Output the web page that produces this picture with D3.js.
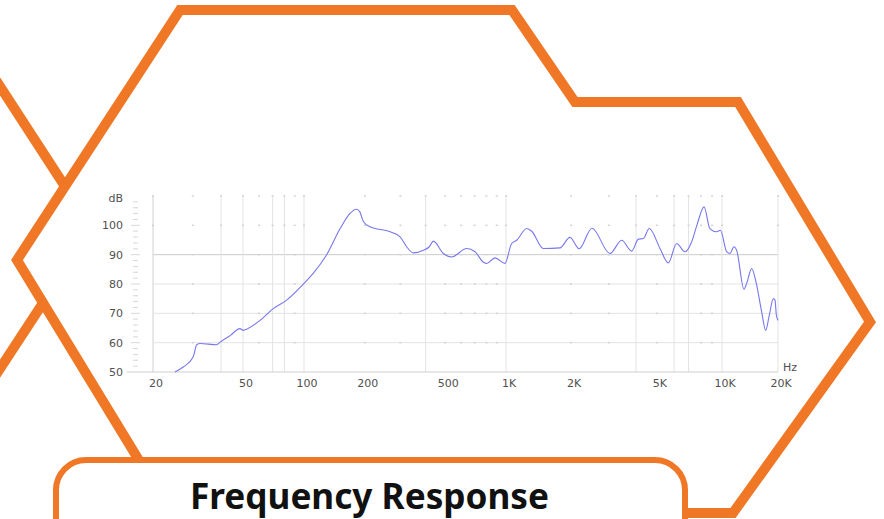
<!DOCTYPE html>
<html>
<head>
<meta charset="utf-8">
<script src="https://cdn.jsdelivr.net/npm/d3@7"></script>
<style>
  body { margin: 0; background: #fff; }
  svg { display: block; }
  .tick-txt { font-family: "DejaVu Sans", sans-serif; font-size: 11px; fill: #505050; }
</style>
</head>
<body>
<div id="vis"></div>
<script>
// datos
const freqHz = [25, 27.2, 30.1, 31.2, 32.3, 38.3, 39.6, 44, 48.5, 50.1, 52.1, 60.7, 70.5, 82.1, 100,
  111, 129, 151, 169, 182, 189, 197, 212, 267, 299, 322, 348, 390, 417, 437, 490, 538, 639, 703,
  773, 802, 883, 988, 1062, 1121, 1247, 1315, 1488, 1778, 1977, 2180, 2500, 3030, 3433, 3819,
  4100, 4325, 4607, 5164, 5641, 6168, 6740, 7240, 7650, 8260, 8790, 9440, 9830, 10600, 11040,
  11600, 11990, 13130, 13570, 14440, 15230, 16340, 17170, 17960, 18880, 19270, 19600, 20000];
const levelDb = [50, 51.7, 55.1, 59.3, 59.7, 59.3, 60.2, 62.5, 64.8, 64.2, 64.6, 67.6, 71.6, 74.5, 80.2,
  83.6, 89.8, 98.9, 104.1, 105.5, 104.6, 101.2, 99.5, 97.8, 96.1, 92.7, 90.6, 91.5, 92.7, 94.6,
  90.4, 89.2, 92.1, 91.0, 87.4, 87.0, 88.9, 87.0, 93.8, 94.9, 98.9, 98.0, 92.1, 92.3, 95.9, 92.0,
  99.0, 90.4, 94.9, 91.2, 95.3, 95.5, 98.9, 92.1, 87.2, 93.8, 91.0, 94.4, 100, 106.3, 98.9, 97.8,
  98.3, 91.0, 90.4, 92.7, 91.5, 78.2, 80.2, 85.3, 80.7, 70.5, 64.2, 69.4, 75.0, 74.5, 69.4, 67.6];

const xTickHz = [20, 50, 100, 200, 500, 1000, 2000, 5000, 10000, 20000];
const xTickLabels = ["20", "50", "100", "200", "500", "1K", "2K", "5K", "10K", "20K"];
const yTicks = [50, 60, 70, 80, 90, 100];
const gridLineHz = [20, 40, 50, 70, 80, 100, 400, 1000, 4000, 6000, 7000, 10000, 20000];
const gridDotHz = [30, 60, 90, 200, 300, 500, 600, 700, 800, 900, 2000, 3000, 5000, 8000, 9000];

const WIDTH = 884, HEIGHT = 519;
const NARANJA = "#ef7726";

const svg = d3.select("#vis").append("svg").attr("width", WIDTH).attr("height", HEIGHT);
svg.append("rect").attr("width", WIDTH).attr("height", HEIGHT).attr("fill", "#fff");

// hexagonos de fondo
const deco = svg.append("g").attr("fill", "none").attr("stroke", NARANJA)
  .attr("stroke-width", 10).attr("stroke-linejoin", "miter");
deco.append("path").attr("d", "M-10,71 L66,188");
deco.append("path").attr("d", "M43,303 L-10,384");
deco.append("path")
  .attr("d", "M140,462 L17,260 L180,10 L512,10 L575,102 L738,102 L870,322 L733,513 L600,513");

// caja del titulo
svg.append("rect")
  .attr("x", 56).attr("y", 460).attr("width", 629).attr("height", 120).attr("rx", 30)
  .attr("fill", "#fff").attr("stroke", NARANJA).attr("stroke-width", 6);
svg.append("text")
  .attr("x", 369.5).attr("y", 509)
  .attr("text-anchor", "middle")
  .attr("textLength", 359).attr("lengthAdjust", "spacingAndGlyphs")
  .style("font-family", "'Noto Sans', sans-serif").style("font-weight", "bold")
  .style("font-size", "35px").style("fill", "#111")
  .text("Frequency Response");

// escalas (el eje del original no es log perfecto, se usa log por tramos)
const x = d3.scaleLog()
  .domain([20, 50, 100, 1000, 10000, 20000])
  .range([153, 243, 304, 506, 722, 778]);
const y = d3.scaleLinear().domain([50, 110]).range([372, 196]);

const chart = svg.append("g");

// lineas horizontales
chart.selectAll(".hgrid")
  .data([60, 70, 80, 90])
  .join("line")
  .attr("x1", x(20)).attr("x2", x(20000))
  .attr("y1", d => y(d)).attr("y2", d => y(d))
  .attr("stroke", d => d === 90 ? "#cbcbcb" : "#e4e4e4")
  .attr("stroke-width", 1);

// lineas verticales
chart.selectAll(".vgrid")
  .data(gridLineHz)
  .join("line")
  .attr("x1", d => x(d)).attr("x2", d => x(d))
  .attr("y1", y(110)).attr("y2", y(50))
  .attr("stroke", d => d === 20 ? "#d0d0d0" : "#e3e3e3")
  .attr("stroke-width", 1);

// puntos de la grilla menor
const filas = [60, 70, 80, 90, 100, 110];
const puntos = [];
gridDotHz.forEach(f => filas.forEach(v => puntos.push([f, v])));
gridLineHz.forEach(f => [100, 110].forEach(v => puntos.push([f, v])));
chart.selectAll(".dot")
  .data(puntos)
  .join("rect")
  .attr("x", d => x(d[0]) - 1).attr("y", d => y(d[1]) - 0.75)
  .attr("width", 2).attr("height", 1.5)
  .attr("fill", "#d2d2d2");

// eje x
chart.append("line")
  .attr("x1", 127).attr("x2", x(20000))
  .attr("y1", y(50)).attr("y2", y(50))
  .attr("stroke", "#cfcfcf");

// marcas menores del eje y
chart.selectAll(".ymin")
  .data(d3.range(52, 110, 2))
  .join("line")
  .attr("x1", d => d % 10 === 0 ? 131 : 133).attr("x2", d => d % 10 === 0 ? 140 : 138)
  .attr("y1", d => y(d)).attr("y2", d => y(d))
  .attr("stroke", "#d8d8d8");

chart.selectAll(".ylab")
  .data(yTicks)
  .join("text")
  .attr("class", "tick-txt")
  .attr("x", 123).attr("y", d => y(d) + 4)
  .attr("text-anchor", "end")
  .text(d => d);
chart.append("text").attr("class", "tick-txt")
  .attr("x", 123).attr("y", 202).attr("text-anchor", "end").text("dB");

chart.selectAll(".xlab")
  .data(xTickHz)
  .join("text")
  .attr("class", "tick-txt")
  .attr("x", d => x(d) + 3).attr("y", 387)
  .attr("text-anchor", "middle")
  .text((d, i) => xTickLabels[i]);
chart.append("text").attr("class", "tick-txt")
  .attr("x", 783).attr("y", 371).text("Hz");

// curva de respuesta
const datos = freqHz.map((f, i) => ({ f: f, db: levelDb[i] }));
const linea = d3.line()
  .x(d => x(d.f))
  .y(d => y(d.db))
  .curve(d3.curveMonotoneX);
chart.append("path")
  .datum(datos)
  .attr("d", linea)
  .attr("fill", "none")
  .attr("stroke", "#7777ee")
  .attr("stroke-width", 1.1);
</script>
</body>
</html>
